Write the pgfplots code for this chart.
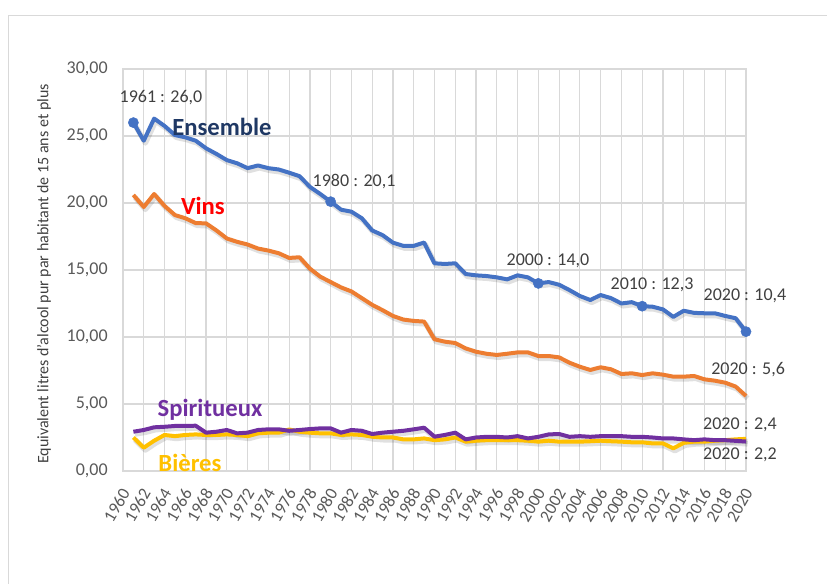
\documentclass[border=0pt]{standalone}
\usepackage{pgfplots}
\pgfplotsset{compat=1.18}
\usepackage{pgfplotstable}
\usepackage{fontspec}
\setmainfont{Carlito}

\definecolor{cEns}{HTML}{4472C4}
\definecolor{cVin}{HTML}{ED7D31}
\definecolor{cSpi}{HTML}{7030A0}
\definecolor{cBie}{HTML}{FFC000}
\definecolor{cNavy}{HTML}{1F3864}
\definecolor{cGrid}{HTML}{D9D9D9}
\definecolor{cTxt}{HTML}{595959}
\definecolor{cAnn}{HTML}{404040}

% annee, ensemble, vins, spiritueux, bieres (litres d'alcool pur / hab. 15 ans+)
\pgfplotstableread{
an   ens    vin    spi   bie
1961 26.0   20.6   2.93  2.5
1962 24.65  19.7   3.06  1.74
1963 26.3   20.67  3.26  2.26
1964 25.75  19.78  3.3   2.69
1965 25.07  19.1   3.36  2.6
1966 24.9   18.86  3.36  2.69
1967 24.65  18.5   3.38  2.73
1968 24.08  18.48  2.86  2.69
1969 23.66  17.95  2.93  2.69
1970 23.2   17.35  3.06  2.73
1971 22.96  17.1   2.81  2.69
1972 22.6   16.9   2.86  2.6
1973 22.8   16.6   3.06  2.81
1974 22.6   16.45  3.11  2.86
1975 22.5   16.25  3.11  2.86
1976 22.26  15.9   3.0   3.1
1977 22.0   15.95  3.06  2.93
1978 21.2   15.1   3.13  2.86
1979 20.67  14.5   3.18  2.81
1980 20.1   14.1   3.18  2.81
1981 19.5   13.7   2.86  2.69
1982 19.35  13.4   3.06  2.73
1983 18.86  12.9   3.0   2.69
1984 17.95  12.4   2.76  2.56
1985 17.6   12.0   2.86  2.5
1986 17.04  11.57  2.93  2.5
1987 16.8   11.3   3.0   2.36
1988 16.8   11.2   3.11  2.36
1989 17.05  11.15  3.23  2.43
1990 15.5   9.83   2.56  2.3
1991 15.45  9.65   2.69  2.36
1992 15.5   9.55   2.86  2.5
1993 14.7   9.15   2.36  2.19
1994 14.6   8.9    2.5   2.26
1995 14.55  8.75   2.55  2.3
1996 14.45  8.66   2.55  2.3
1997 14.3   8.75   2.5   2.3
1998 14.6   8.85   2.6   2.3
1999 14.45  8.85   2.43  2.26
2000 14.0   8.58   2.55  2.19
2001 14.1   8.58   2.73  2.26
2002 13.9   8.48   2.76  2.19
2003 13.5   8.08   2.55  2.19
2004 13.06  7.78   2.6   2.19
2005 12.76  7.54   2.55  2.22
2006 13.13  7.74   2.6   2.26
2007 12.9   7.59   2.6   2.22
2008 12.5   7.24   2.6   2.19
2009 12.6   7.29   2.55  2.14
2010 12.3   7.16   2.55  2.14
2011 12.26  7.29   2.5   2.06
2012 12.06  7.19   2.43  2.06
2013 11.5   7.04   2.43  1.69
2014 11.96  7.04   2.36  2.1
2015 11.8   7.09   2.3   2.19
2016 11.77  6.84   2.36  2.19
2017 11.77  6.74   2.3   2.26
2018 11.57  6.59   2.3   2.3
2019 11.4   6.3    2.25  2.36
2020 10.4   5.6    2.2   2.4
}\data

\begin{document}
\begin{tikzpicture}
% 1 px of the reference = 0.75pt
\useasboundingbox (0,0) rectangle (620.25pt,438pt);
\draw[cGrid, line width=1pt] (6.5pt,-20pt) |- (640pt,426.5pt);

\begin{axis}[
    at={(92.25pt,84.75pt)}, anchor=south west,
    scale only axis,
    width=467.25pt, height=301.5pt,
    xmin=1960, xmax=2020, ymin=0, ymax=30,
    xtick={1960,1962,...,2020},
    ytick={0,5,...,30},
    grid=major,
    major grid style={cGrid, line width=0.9pt},
    axis line style={cGrid, line width=0.9pt},
    major tick length=0pt,
    clip=false,
    font=\fontsize{13.5}{16}\selectfont,
    tick label style={text=cTxt},
    /pgf/number format/assume math mode=true,
    /pgf/number format/use comma,
    yticklabel style={/pgf/number format/fixed, /pgf/number format/fixed zerofill, /pgf/number format/precision=2, xshift=-8pt},
    xticklabel style={/pgf/number format/1000 sep={}, font=\fontsize{13}{15}\selectfont,
        xshift=2pt, yshift=-14pt, rotate=60, anchor=east, inner sep=0pt},
    ylabel={Equivalent litres d'alcool pur par habitant de 15 ans et plus},
    ylabel style={font=\fontsize{12}{14}\selectfont, text=cAnn, at={(-0.108,0.49)}, anchor=south},
    shad/.style={black, opacity=0.12, line width=4pt, xshift=1.2pt, yshift=-1.8pt, line join=round},
    ser/.style={line width=3pt, line join=round, mark=none},
]
% ombres
\addplot[shad] table[x=an, y=ens] {\data};
\addplot[shad] table[x=an, y=vin] {\data};
\addplot[shad] table[x=an, y=bie] {\data};
\addplot[shad] table[x=an, y=spi] {\data};
% series
\addplot[ser, cEns] table[x=an, y=ens] {\data};
\addplot[ser, cVin] table[x=an, y=vin] {\data};
\addplot[ser, cBie] table[x=an, y=bie] {\data};
\addplot[ser, cSpi] table[x=an, y=spi] {\data};
% points remarquables
\addplot[only marks, mark=*, mark size=3.8pt, cEns] coordinates {
    (1961,26.0) (1980,20.1) (2000,14.0) (2010,12.3) (2020,10.4) };

% noms des series
\node[text=cNavy, font=\fontsize{18.5}{20}\selectfont\bfseries] at (axis cs:1969.53,25.67) {Ensemble};
\node[text=red, font=\fontsize{18.5}{20}\selectfont\bfseries] at (axis cs:1967.7,19.78) {Vins};
\node[text=cSpi, font=\fontsize{18.5}{20}\selectfont\bfseries] at (axis cs:1968.38,4.55) {Spiritueux};
\node[text=cBie, font=\fontsize{18.5}{20}\selectfont\bfseries] at (axis cs:1966.45,0.6) {Bières};

% etiquettes de valeurs
\node[text=cAnn] at (axis cs:1963.66,27.84) {1961 : 26,0};
\node[text=cAnn] at (axis cs:1982.25,21.64) {1980 : 20,1};
\node[text=cAnn] at (axis cs:2000.93,15.67) {2000 : 14,0};
\node[text=cAnn] at (axis cs:2010.95,13.88) {2010 : 12,3};
\node[text=cAnn] at (axis cs:2019.9,13.06) {2020 : 10,4};
\node[text=cAnn] at (axis cs:2020.2,7.54) {2020 : 5,6};
\node[text=cAnn] at (axis cs:2019.42,3.43) {2020 : 2,4};
\node[text=cAnn] at (axis cs:2019.42,1.19) {2020 : 2,2};
\end{axis}
\end{tikzpicture}
\end{document}
